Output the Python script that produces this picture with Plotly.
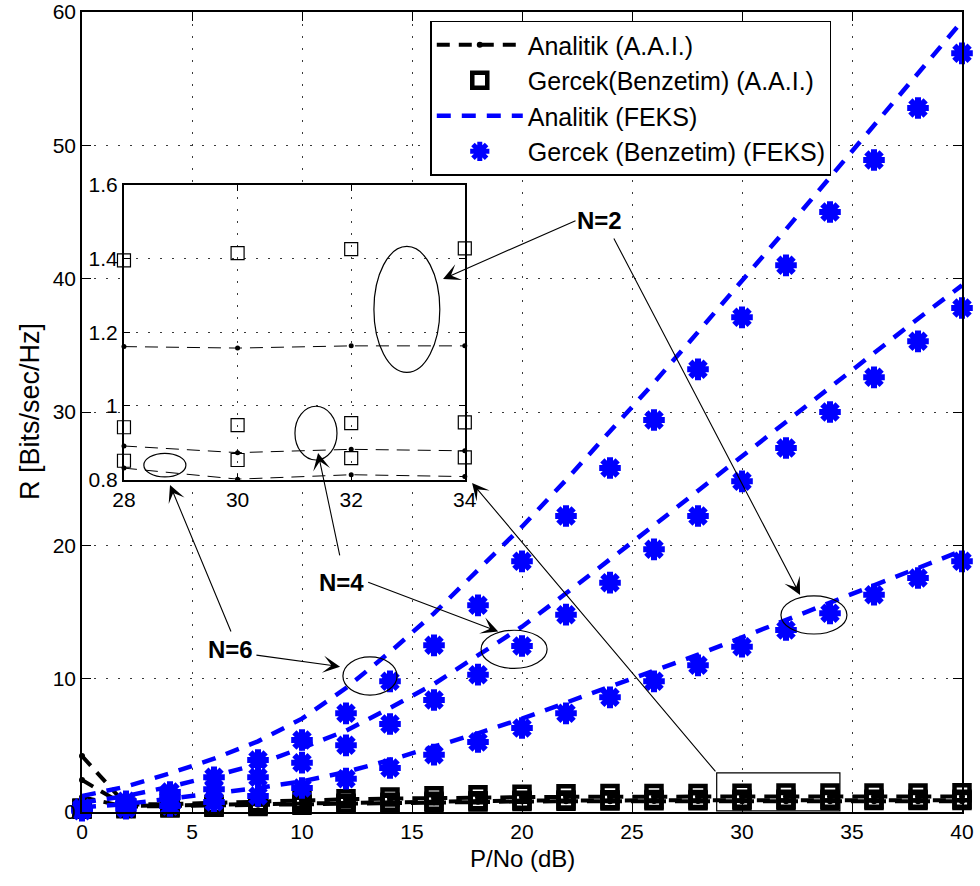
import plotly.graph_objects as go

# ---------------------------------------------------------------- data
snr_db = [0, 2, 4, 6, 8, 10, 12, 14, 16, 18, 20, 22, 24, 26, 28, 30, 32, 34, 36, 38, 40]

# A.A.I. – analytic (three antenna counts)
aai_an_n2 = [4.2, 0.55, 0.6, 0.7, 0.8, 0.88, 0.95, 1.01, 1.06, 1.1, 1.12, 1.14, 1.15, 1.16, 1.161, 1.157, 1.163, 1.163, 1.165, 1.165, 1.165]
aai_an_n4 = [2.4, 0.45, 0.5, 0.55, 0.6, 0.66, 0.72, 0.77, 0.81, 0.84, 0.86, 0.87, 0.88, 0.885, 0.891, 0.873, 0.882, 0.878, 0.88, 0.88, 0.88]
aai_an_n6 = [1.1, 0.4, 0.45, 0.5, 0.55, 0.6, 0.65, 0.7, 0.74, 0.77, 0.79, 0.8, 0.81, 0.82, 0.831, 0.801, 0.813, 0.808, 0.81, 0.81, 0.81]

# A.A.I. – simulation
aai_sim_n2 = [0.3, 0.35, 0.45, 0.55, 0.7, 0.85, 1.0, 1.12, 1.22, 1.29, 1.33, 1.36, 1.38, 1.39, 1.395, 1.415, 1.426, 1.428, 1.43, 1.43, 1.435]
aai_sim_n4 = [0.25, 0.3, 0.35, 0.4, 0.5, 0.58, 0.66, 0.74, 0.8, 0.85, 0.88, 0.9, 0.92, 0.935, 0.942, 0.948, 0.953, 0.955, 0.955, 0.957, 0.958]
aai_sim_n6 = [0.2, 0.25, 0.3, 0.35, 0.42, 0.5, 0.58, 0.65, 0.7, 0.75, 0.78, 0.8, 0.82, 0.84, 0.851, 0.853, 0.858, 0.86, 0.86, 0.862, 0.862]

# FEKS – analytic
feks_an_n2 = [0.35, 0.6, 1.0, 1.4, 1.8, 2.3, 3.0, 3.9, 4.9, 5.9, 7.0, 8.2, 9.4, 10.6, 11.8, 13.1, 14.4, 15.7, 17.0, 18.3, 19.6]
feks_an_n4 = [0.7, 1.2, 1.9, 2.7, 3.6, 4.8, 6.1, 7.8, 9.6, 11.7, 13.9, 16.4, 18.9, 21.5, 24.1, 26.7, 29.3, 31.9, 34.5, 37.0, 39.5]
feks_an_n6 = [1.2, 1.9, 2.9, 4.0, 5.3, 7.0, 9.3, 12.0, 14.9, 18.1, 21.4, 24.9, 28.5, 32.2, 36.0, 39.8, 43.7, 47.6, 51.5, 55.4, 59.3]

# FEKS – simulation
feks_sim_n2 = [0.1, 0.25, 0.45, 0.75, 1.2, 1.8, 2.5, 3.3, 4.3, 5.25, 6.3, 7.4, 8.6, 9.8, 11.0, 12.4, 13.65, 14.9, 16.3, 17.55, 18.8]
feks_sim_n4 = [0.2, 0.6, 1.1, 1.7, 2.6, 3.7, 5.0, 6.6, 8.4, 10.3, 12.45, 14.8, 17.2, 19.7, 22.2, 24.8, 27.3, 30.0, 32.6, 35.3, 37.8]
feks_sim_n6 = [0.3, 0.8, 1.5, 2.6, 3.9, 5.4, 7.4, 9.8, 12.5, 15.5, 18.8, 22.2, 25.8, 29.4, 33.2, 37.1, 41.0, 45.0, 48.9, 52.8, 56.9]

x_ticks = [0, 5, 10, 15, 20, 25, 30, 35, 40]
y_ticks = [0, 10, 20, 30, 40, 50, 60]
zoom_x_ticks = [28, 30, 32, 34]
zoom_y_ticks = [0.8, 1.0, 1.2, 1.4, 1.6]
zoom_y_labels = ["0.8", "1", "1.2", "1.4", "1.6"]

legend_names = ["Analitik (A.A.I.)", "Gercek(Benzetim) (A.A.I.)",
                "Analitik (FEKS)", "Gercek (Benzetim) (FEKS)"]

# ---------------------------------------------------------------- style
FONT = "Liberation Sans, Arial, Helvetica, sans-serif"
BLUE = "#0000ff"
BLACK = "#000000"
X_RANGE = [0, 40]
Y_RANGE = [0, 60]
ZX_RANGE = [28, 34]
ZY_RANGE = [0.8, 1.6]
ZOOM_DOM_X = [0.0477, 0.435]
ZOOM_DOM_Y = [0.4156, 0.7838]

fig = go.Figure()

# white panel under the magnified view so the main grid does not show through
bx0 = X_RANGE[0] + ZOOM_DOM_X[0] * (X_RANGE[1] - X_RANGE[0])
bx1 = X_RANGE[0] + ZOOM_DOM_X[1] * (X_RANGE[1] - X_RANGE[0])
by0 = Y_RANGE[0] + ZOOM_DOM_Y[0] * (Y_RANGE[1] - Y_RANGE[0])
by1 = Y_RANGE[0] + ZOOM_DOM_Y[1] * (Y_RANGE[1] - Y_RANGE[0])
fig.add_trace(go.Scatter(x=[bx0, bx1, bx1, bx0, bx0], y=[by0, by0, by1, by1, by0],
                         fill="toself", fillcolor="white", mode="lines",
                         line=dict(width=0, color="white"), hoverinfo="skip",
                         showlegend=False))

groups = [
    ("aai_an", legend_names[0], [aai_an_n2, aai_an_n4, aai_an_n6]),
    ("aai_sim", legend_names[1], [aai_sim_n2, aai_sim_n4, aai_sim_n6]),
    ("feks_an", legend_names[2], [feks_an_n2, feks_an_n4, feks_an_n6]),
    ("feks_sim", legend_names[3], [feks_sim_n2, feks_sim_n4, feks_sim_n6]),
]


def main_style(kind):
    if kind == "aai_an":
        return dict(mode="lines+markers",
                    line=dict(color=BLACK, width=4, dash="13px,9px"),
                    marker=dict(symbol="circle", size=6, color=BLACK))
    if kind == "aai_sim":
        return dict(mode="markers",
                    marker=dict(symbol="square-open", size=15, color=BLACK,
                                line=dict(width=4.5, color=BLACK)))
    if kind == "feks_an":
        return dict(mode="lines", line=dict(color=BLUE, width=4.5, dash="14px,11px"))
    return dict(mode="markers",
                marker=dict(symbol="asterisk-open", size=18, color=BLUE,
                            line=dict(width=6, color=BLUE)))


def zoom_style(kind):
    if kind == "aai_an":
        return dict(mode="lines+markers",
                    line=dict(color=BLACK, width=1, dash="13px,8px"),
                    marker=dict(symbol="circle", size=5, color=BLACK))
    if kind == "aai_sim":
        return dict(mode="markers",
                    marker=dict(symbol="square-open", size=13, color=BLACK,
                                line=dict(width=1.2, color=BLACK)))
    return None


# main panel
for kind, name, series in groups:
    for i, ys in enumerate(series):
        fig.add_trace(go.Scatter(x=snr_db, y=ys, name=name, legendgroup=kind,
                                 showlegend=(i == 0), cliponaxis=False,
                                 **main_style(kind)))

# magnified view of the A.A.I. curves
keep = [k for k, v in enumerate(snr_db) if ZX_RANGE[0] <= v <= ZX_RANGE[1]]
for kind, name, series in groups:
    st = zoom_style(kind)
    if st is None:
        continue
    for ys in series:
        fig.add_trace(go.Scatter(x=[snr_db[k] for k in keep], y=[ys[k] for k in keep],
                                 xaxis="x2", yaxis="y2", showlegend=False,
                                 cliponaxis=False, hoverinfo="skip", **st))

GRID = dict(showgrid=True, gridcolor="#3a3a3a", gridwidth=1, griddash="2px,10px",
            zeroline=False, showline=True, linecolor=BLACK, linewidth=1.5,
            mirror="ticks", ticks="inside", tickcolor=BLACK, automargin=False,
            tickfont=dict(family=FONT, size=21, color=BLACK))

fig.update_layout(
    width=980, height=886,
    margin=dict(l=82, r=18, t=12, b=74, autoexpand=False),
    paper_bgcolor="white", plot_bgcolor="white",
    font=dict(family=FONT, color=BLACK),
    xaxis=dict(range=X_RANGE, tickvals=x_ticks, ticklen=9, domain=[0, 1], **GRID),
    yaxis=dict(range=Y_RANGE, tickvals=y_ticks, ticklen=9, domain=[0, 1], **GRID),
    xaxis2=dict(range=ZX_RANGE, tickvals=zoom_x_ticks, ticklen=6, domain=ZOOM_DOM_X,
                anchor="y2", **{**GRID, "linewidth": 2}),
    yaxis2=dict(range=ZY_RANGE, tickvals=zoom_y_ticks, ticktext=zoom_y_labels,
                ticklen=6, domain=ZOOM_DOM_Y, anchor="x2", **{**GRID, "linewidth": 2}),
    legend=dict(x=0.396, y=0.989, xanchor="left", yanchor="top",
                bgcolor="white", bordercolor=BLACK, borderwidth=1.3,
                font=dict(family=FONT, size=25, color=BLACK),
                itemwidth=86, tracegroupgap=0, traceorder="normal"),
    showlegend=True,
)

# axis titles
fig.add_annotation(text="P/No (dB)", xref="paper", yref="paper", x=0.5, y=-0.0575,
                   showarrow=False, font=dict(family=FONT, size=24, color=BLACK),
                   xanchor="center", yanchor="middle")
fig.add_annotation(text="R [Bits/sec/Hz]", xref="paper", yref="paper", x=-0.059, y=0.5,
                   showarrow=False, textangle=-90,
                   font=dict(family=FONT, size=27, color=BLACK),
                   xanchor="center", yanchor="middle")

# ellipses around the curves (main axes and magnified axes)
ellipses = [
    ("x", "y", 13.09, 10.2, 1.23, 1.43),
    ("x", "y", 19.64, 12.2, 1.5, 1.43),
    ("x", "y", 33.27, 14.78, 1.5, 1.43),
    ("x2", "y2", 32.98, 1.262, 0.58, 0.171),
    ("x2", "y2", 31.38, 0.926, 0.37, 0.073),
    ("x2", "y2", 28.72, 0.839, 0.37, 0.032),
]
for xr, yr, cx, cy, rx, ry in ellipses:
    fig.add_shape(type="circle", xref=xr, yref=yr, x0=cx - rx, x1=cx + rx,
                  y0=cy - ry, y1=cy + ry, line=dict(color=BLACK, width=1.2))

# box marking the magnified region
fig.add_shape(type="rect", xref="x", yref="y", x0=28.85, x1=34.45, y0=0.08, y1=2.93,
              line=dict(color=BLACK, width=1.2))

# labels
for txt, lx, ly in [("N=2", 23.5, 44.33), ("N=4", 11.8, 17.25), ("N=6", 6.77, 12.2)]:
    fig.add_annotation(text="<b>" + txt + "</b>", x=lx, y=ly, xref="x", yref="y",
                       showarrow=False, font=dict(family=FONT, size=24, color=BLACK))

# arrows: (tail x, tail y, tip x, tip y) in main-axis units
arrows = [
    (22.5, 44.4, 16.41, 39.98),
    (24.14, 43.13, 32.64, 16.28),
    (11.73, 19.13, 10.73, 26.93),
    (12.94, 17.28, 18.92, 13.53),
    (6.8, 13.43, 4.0, 24.53),
    (7.86, 11.78, 11.73, 10.9),
    (28.85, 2.93, 17.73, 24.68),
]
for tx, ty, hx, hy in arrows:
    fig.add_annotation(x=hx, y=hy, ax=tx, ay=ty, xref="x", yref="y",
                       axref="x", ayref="y", text="", showarrow=True,
                       arrowhead=3, arrowsize=2.6, arrowwidth=1.1,
                       arrowcolor=BLACK, standoff=0)

fig.write_html("out.html")
